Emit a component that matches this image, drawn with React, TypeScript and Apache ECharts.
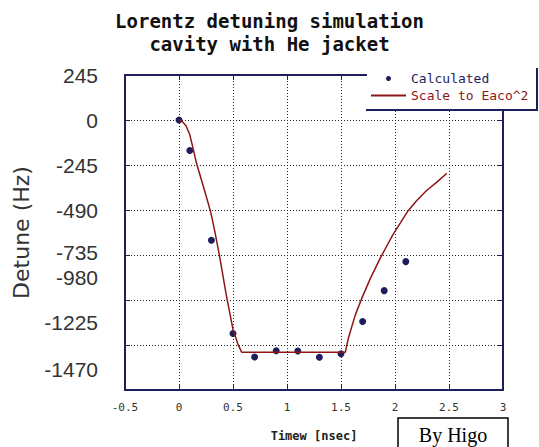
import React, { useEffect, useRef } from "react";
import * as echarts from "echarts";

const titleText = "Lorentz detuning simulation\ncavity with He jacket";
const xName = "Timew [nsec]";
const yName = "Detune (Hz)";
const seriesNames = ["Calculated", "Scale to Eaco^2"];

const calcX = [0, 0.1, 0.3, 0.5, 0.7, 0.9, 1.1, 1.3, 1.5, 1.7, 1.9, 2.1];
const calcY = [0, -166, -655, -1162, -1290, -1256, -1258, -1292, -1273, -1097, -929, -771];

const lineX = [
  0, 0.03, 0.065, 0.1, 0.164, 0.23, 0.293, 0.333, 0.373, 0.44, 0.5, 0.545, 0.58,
  1.54, 1.567, 1.63, 1.69, 1.77, 1.86, 1.92, 1.98, 2.05, 2.12, 2.2, 2.29, 2.39, 2.48,
];
const lineY = [
  0, -8, -31, -80, -240, -370, -500, -610, -733, -960, -1140, -1220, -1264,
  -1264, -1191, -1065, -974, -865, -756, -690, -625, -560, -495, -440, -385, -337, -290,
];

const xTicks = { min: -0.5, max: 3, interval: 0.5 };
const yTicks = { min: -1470, max: 245, interval: 245 };
// the reference's y labels sit where they were pasted, not exactly on the ticks
const yLabelAt = [245, 0, -245, -490, -722, -860, -1100, -1360];
const yLabelText = ["245", "0", "-245", "-490", "-735", "-980", "-1225", "-1470"];

const navy = "#1e1e5c";
const red = "#8e1616";

export default function App() {
  const ref = useRef<HTMLDivElement>(null);
  useEffect(() => {
    if (!ref.current) return;
    const chart = echarts.init(ref.current, null, { renderer: "svg" });
    const grid = "#222";
    chart.setOption({
      animation: false,
      backgroundColor: "#fff",
      title: {
        text: titleText,
        left: "center",
        top: 4,
        textStyle: {
          fontFamily: "DejaVu Sans Mono",
          fontWeight: "bold",
          fontSize: 19,
          lineHeight: 23,
          color: "#111",
        },
      },
      legend: {
        z: 20,
        orient: "vertical",
        left: 370,
        top: 72,
        itemWidth: 35,
        itemHeight: 5,
        itemGap: 4,
        padding: 0,
        textStyle: { fontFamily: "DejaVu Sans Mono", fontSize: 13 },
        data: [
          { name: seriesNames[0], textStyle: { color: navy } },
          { name: seriesNames[1], textStyle: { color: red }, itemStyle: { opacity: 0 } },
        ],
      },
      grid: { left: 125, right: 36, top: 75, bottom: 55 },
      xAxis: [
        {
          type: "value",
          ...xTicks,
          name: xName,
          nameLocation: "middle",
          nameGap: 40,
          nameTextStyle: { fontFamily: "DejaVu Sans Mono", fontWeight: "bold", fontSize: 12, color: "#222" },
          axisLine: { show: true, onZero: false, lineStyle: { color: navy, width: 2 } },
          axisTick: { show: true, inside: true, length: 5, lineStyle: { color: navy } },
          axisLabel: {
            margin: 12,
            fontFamily: "DejaVu Sans Mono",
            fontSize: 11,
            color: "#333",
            formatter: (v: number) => String(v),
          },
          splitLine: { show: true, lineStyle: { color: grid, type: [1, 2], width: 1 } },
        },
        {
          type: "value",
          position: "top",
          ...xTicks,
          axisLine: { show: true, onZero: false, lineStyle: { color: navy, width: 2 } },
          axisTick: { show: true, inside: true, length: 5, lineStyle: { color: navy } },
          axisLabel: { show: false },
          splitLine: { show: false },
        },
      ],
      yAxis: [
        {
          type: "value",
          ...yTicks,
          name: yName,
          nameLocation: "middle",
          nameRotate: 90,
          nameGap: 93,
          nameTextStyle: { fontFamily: "DejaVu Sans", fontSize: 22, color: "#333" },
          axisLine: { show: true, onZero: false, lineStyle: { color: navy, width: 2 } },
          axisTick: { show: true, inside: true, length: 5, lineStyle: { color: navy } },
          axisLabel: {
            customValues: yLabelAt,
            margin: 27,
            fontFamily: "Liberation Sans",
            fontSize: 21,
            color: "#333",
            formatter: (v: number) => {
              const i = yLabelAt.indexOf(v);
              return i >= 0 ? yLabelText[i] : String(v);
            },
          },
          splitLine: { show: true, lineStyle: { color: grid, type: [1, 2], width: 1 } },
        },
        {
          type: "value",
          position: "right",
          ...yTicks,
          axisLine: { show: true, onZero: false, lineStyle: { color: navy, width: 2 } },
          axisTick: { show: true, inside: true, length: 5, lineStyle: { color: navy } },
          axisLabel: { show: false },
          splitLine: { show: false },
        },
      ],
      graphic: [
        {
          type: "rect",
          z: 10,
          shape: { x: 367, y: 66, width: 170, height: 44 },
          style: { fill: "#fff", stroke: "none" },
        },
        {
          type: "polyline",
          z: 11,
          shape: { points: [[366, 110], [537, 110], [537, 68]] },
          style: { stroke: navy, lineWidth: 2, fill: "none" },
        },
        {
          type: "rect",
          z: 10,
          shape: { x: 398, y: 418, width: 110, height: 40 },
          style: { fill: "#fff", stroke: "#000", lineWidth: 1.5 },
        },
        {
          type: "text",
          z: 11,
          x: 453,
          y: 435,
          style: {
            text: "By Higo",
            fontFamily: "Liberation Serif",
            fontSize: 20,
            fill: "#000",
            align: "center",
            verticalAlign: "middle",
          },
        },
      ],
      series: [
        {
          name: seriesNames[0],
          type: "scatter",
          symbol: "circle",
          symbolSize: 7,
          itemStyle: { color: navy, opacity: 1 },
          data: calcX.map((x, i) => [x, calcY[i]]),
          z: 3,
        },
        {
          name: seriesNames[1],
          type: "line",
          showSymbol: false,
          symbol: "none",
          lineStyle: { color: red, width: 1.5 },
          itemStyle: { color: red },
          data: lineX.map((x, i) => [x, lineY[i]]),
          z: 4,
        },
      ],
    });
    return () => chart.dispose();
  }, []);
  return <div ref={ref} style={{ width: 539, height: 447, position: "absolute", left: 0, top: 0 }} />;
}
